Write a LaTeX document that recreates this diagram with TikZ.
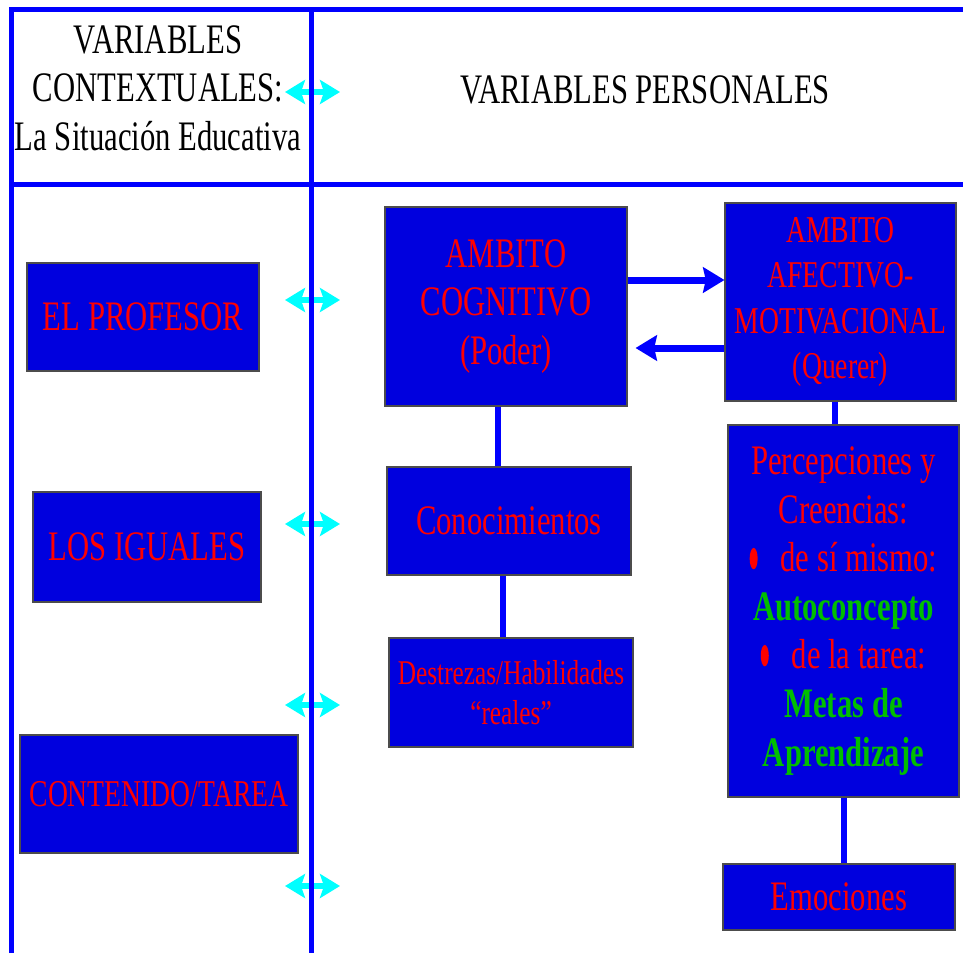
\documentclass[tikz,border=0pt]{standalone}
\usepackage{fontspec}
\setmainfont{Liberation Serif}[FakeStretch=0.73]
\usepackage{tikz}
\usetikzlibrary{arrows.meta}
\usepackage{xcolor}

\definecolor{azul}{RGB}{0,0,255}
\definecolor{fondo}{RGB}{0,0,222}
\definecolor{cian}{RGB}{0,255,255}
\definecolor{rojo}{RGB}{255,0,0}
\definecolor{verde}{RGB}{0,190,0}

\newcommand{\grande}{\fontsize{31.5}{36.4}\selectfont}
\newcommand{\medio}{\fontsize{28.4}{33.8}\selectfont}
\newcommand{\chico}{\fontsize{26}{30}\selectfont}
\newcommand{\resalta}[1]{{\bfseries\color{verde}#1}}
\newcommand{\vineta}{\tikz[baseline=-10pt]\fill[rojo] (0,0) ellipse [x radius=3pt, y radius=8pt];}

\begin{document}
\begin{tikzpicture}[x=0.75pt, y=-0.75pt,
    caja/.style={draw=black!70, line width=0.8pt, fill=fondo,
      text=rojo, align=center, inner sep=0pt, font=\grande},
    linea/.style={azul, line width=4.5pt},
    marco/.style={azul, line width=3.75pt},
    flecha/.style={azul, line width=5.25pt, -{Stealth[length=16pt, width=19pt, inset=2pt]}},
    doble/.style={cian, line width=5pt, {Stealth[length=15pt, width=18pt, inset=3pt]}-{Stealth[length=15pt, width=18pt, inset=3pt]}}]
    \useasboundingbox (0,0) rectangle (963,953);
    % Flechas entre columnas
    \foreach \y in {92,300,524,705,886}
        \draw[doble] (285,\y) -- (340,\y);
    % Marco
    \draw[marco] (11,953) -- (11,9) -- (963,9);
    \draw[marco] (11,184) -- (963,184);
    \draw[marco] (311,9) -- (311,953);
    % Encabezados
    \node[font=\grande, align=center] (ctx) at (158,88) {VARIABLES\\CONTEXTUALES:\\La Situación Educativa};
    \node[font=\grande] (pers) at (645,90) {VARIABLES PERSONALES};
    % Variables contextuales
    \node[caja, minimum width=174pt, minimum height=81pt] (prof) at (143,317) {EL PROFESOR};
    \node[caja, minimum width=171pt, minimum height=82.5pt] (igu) at (147,547) {LOS IGUALES};
    \node[caja, minimum width=208.5pt, minimum height=88.5pt, font=\medio] (tar) at (159,794) {CONTENIDO/TAREA};
    % Ambito cognitivo
    \node[caja, minimum width=181.5pt, minimum height=149.25pt] (cog) at (506,306.5) {AMBITO\\COGNITIVO\\(Poder)};
    \node[caja, minimum width=183pt, minimum height=81pt] (con) at (509,521) {Conocimientos};
    \node[caja, minimum width=183pt, minimum height=81.75pt, font=\chico] (des) at (511,692.5) {Destrezas/Habilidades\\“reales”};
    % Ambito afectivo-motivacional
    \node[caja, minimum width=173.25pt, minimum height=148.5pt, font=\medio] (afe) at (840.5,302) {AMBITO\\AFECTIVO-\\MOTIVACIONAL\\(Querer)};
    \node[caja, minimum width=173.25pt, minimum height=279pt] (perc) at (843.5,611)
        {Percepciones y\\Creencias:\\\vineta\ \ \ de sí mismo:\\\resalta{Autoconcepto}\\\vineta\ \ \ de la tarea:\\\resalta{Metas de}\\\resalta{Aprendizaje}};
    \node[caja, minimum width=174pt, minimum height=49.5pt] (emo) at (839,897) {Emociones};
    % Conexiones
    \draw[linea] ([xshift=-6pt]cog.south) -- ([xshift=-6pt]cog.south |- con.north);
    \draw[linea] ([xshift=-4.5pt]con.south) -- ([xshift=-4.5pt]con.south |- des.north);
    \draw[linea] ([xshift=-4pt]afe.south) -- ([xshift=-4pt]afe.south |- perc.north);
    \draw[linea] (perc.south) -- (perc.south |- emo.north);
    \draw[flecha] (cog.east |- 0,280) -- (afe.west |- 0,280);
    \draw[flecha, shorten >=6pt] (afe.west |- 0,348) -- (cog.east |- 0,348);
\end{tikzpicture}
\end{document}
